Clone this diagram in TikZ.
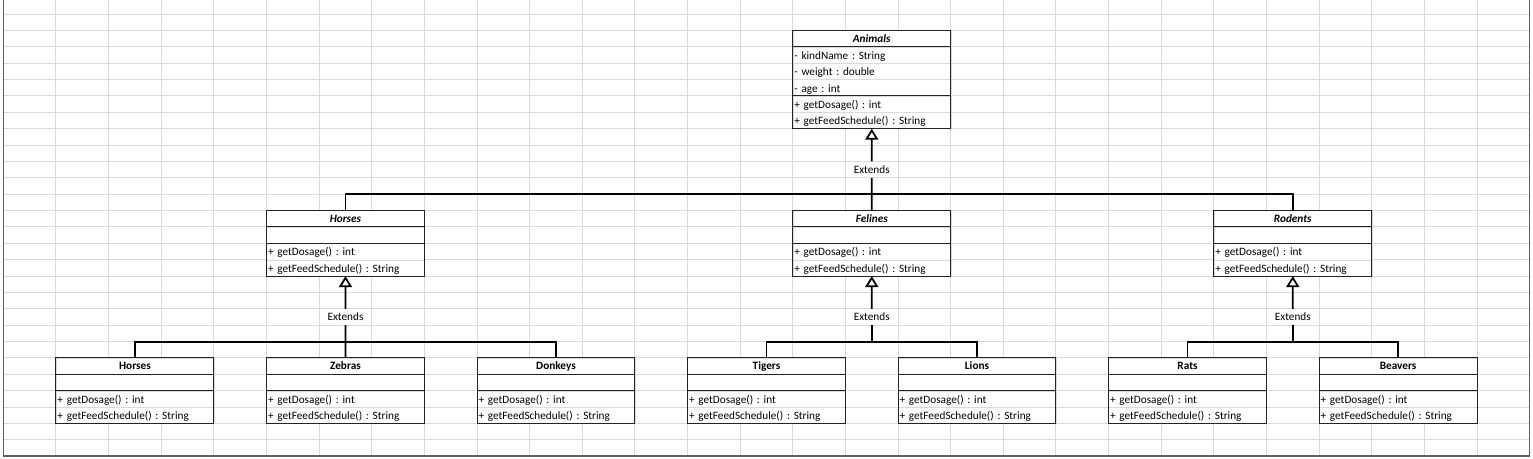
\documentclass[tikz,border=0pt]{standalone}
\usepackage{fontspec}
\setmainfont{Carlito}
\usepackage{tikz}
\usetikzlibrary{arrows.meta}
\frenchspacing
\definecolor{GridGray}{RGB}{218,218,218}
\definecolor{SheetGray}{RGB}{95,95,95}
\definecolor{BoxGray}{RGB}{35,35,35}
\tikzset{%
  ClassRow/.style={draw=GridGray,fill=white,anchor=north west,inner xsep=1.5pt,inner ysep=0pt,
    outer sep=0pt,minimum width=157.89pt,text width=154.89pt,minimum height=16.38pt,align=left,
    text height=10.8pt,text depth=2pt,font=\fontsize{11.25}{12}\selectfont},
  ClassTitle/.style={ClassRow,align=center,text height=9pt,
    font=\fontsize{11.25}{12}\selectfont\bfseries},
  BoxLine/.style={draw=BoxGray,line width=1pt},
  GridLine/.style={draw=GridGray,line width=1pt},
  SheetBorder/.style={draw=SheetGray,line width=1.6pt},
  Connector/.style={draw=black,line width=1.8pt},
  ExtendsArrow/.style={Connector,-{Triangle[open,length=11pt,width=13pt]}},
  ExtendsLabel/.style={inner sep=0pt,outer sep=0pt,minimum height=16.38pt,
    font=\fontsize{11.25}{12}\selectfont}
}
% class box: name, column, row, title, attribute rows (macro), method rows (macro)
\newcommand{\UmlClass}[6]{%
  \node[ClassTitle] (#1) at (#2,#3) {#4};
  \foreach \txt [count=\i] in #5{
    \node[ClassRow] (#1-a\i) at (#2,#3+\i) {\txt};
    \xdef\nattr{\i}
  }
  \foreach \txt [count=\i] in #6{
    \node[ClassRow] (#1-m\i) at (#2,#3+\nattr+\i) {\txt};
    \xdef\nmeth{\i}
  }
  \draw[BoxLine] (#1.north west) rectangle (#1-m\nmeth.south east);
  \draw[BoxLine] (#1.south west) -- (#1.south east);
  \draw[BoxLine] (#1-m1.north west) -- (#1-m1.north east);
  \coordinate (#1-bottom) at (#1-m\nmeth.south);
}
\newcommand{\Fields}{- kindName : String,- weight : double,- age : int}
\newcommand{\NoFields}{\mbox{}}
\newcommand{\Methods}{+ getDosage() : int,+ getFeedSchedule() : String}

\begin{document}
\begin{tikzpicture}[x=52.63pt,y=-16.38pt]
  \useasboundingbox (-1.0640,-0.8547) rectangle (28.0639,27.1062);
  % sheet grid
  \foreach \c in {-1,...,28} \draw[GridLine] (\c,-1) -- (\c,27);
  \foreach \r in {0,...,26} \draw[GridLine] (-1,\r) -- (28,\r);
  \draw[SheetBorder] (-1,-1) rectangle (28,27);

  % classes
  \UmlClass{animals}{14}{1}{\textit{Animals}}{\Fields}{\Methods}
  \UmlClass{horses}{4}{12}{\textit{Horses}}{\NoFields}{\Methods}
  \UmlClass{felines}{14}{12}{\textit{Felines}}{\NoFields}{\Methods}
  \UmlClass{rodents}{22}{12}{\textit{Rodents}}{\NoFields}{\Methods}
  \foreach \name/\title/\col in {horse/Horses/0,zebra/Zebras/4,donkey/Donkeys/8,
    tiger/Tigers/12,lion/Lions/16,rat/Rats/20,beaver/Beavers/24}{
    \UmlClass{\name}{\col}{21}{\title}{\NoFields}{\Methods}
  }

  % extends connectors
  \node[ExtendsLabel] (animalsExt) at (15.5,9.5) {Extends};
  \node[ExtendsLabel] (horsesExt) at (5.5,18.5) {Extends};
  \node[ExtendsLabel] (felinesExt) at (15.5,18.5) {Extends};
  \node[ExtendsLabel] (rodentsExt) at (23.5,18.5) {Extends};
  \coordinate (animalsBar) at (15.5,11);
  \coordinate (horsesBar) at (5.5,20);
  \coordinate (felinesBar) at (15.5,20);
  \coordinate (rodentsBar) at (23.5,20);

  \draw[ExtendsArrow] (animalsExt.north) -- (animals-bottom);
  \draw[Connector] (animalsExt.south) -- (animalsBar) -- (felines.north);
  \draw[Connector] (horses.north) |- (animalsBar) -| (rodents.north);

  \draw[ExtendsArrow] (horsesExt.north) -- (horses-bottom);
  \draw[Connector] (horsesExt.south) -- (horsesBar) -- (zebra.north);
  \draw[Connector] (horse.north) |- (horsesBar) -| (donkey.north);

  \draw[ExtendsArrow] (felinesExt.north) -- (felines-bottom);
  \draw[Connector] (felinesExt.south) -- (felinesBar);
  \draw[Connector] (tiger.north) |- (felinesBar) -| (lion.north);

  \draw[ExtendsArrow] (rodentsExt.north) -- (rodents-bottom);
  \draw[Connector] (rodentsExt.south) -- (rodentsBar);
  \draw[Connector] (rat.north) |- (rodentsBar) -| (beaver.north);
\end{tikzpicture}
\end{document}
